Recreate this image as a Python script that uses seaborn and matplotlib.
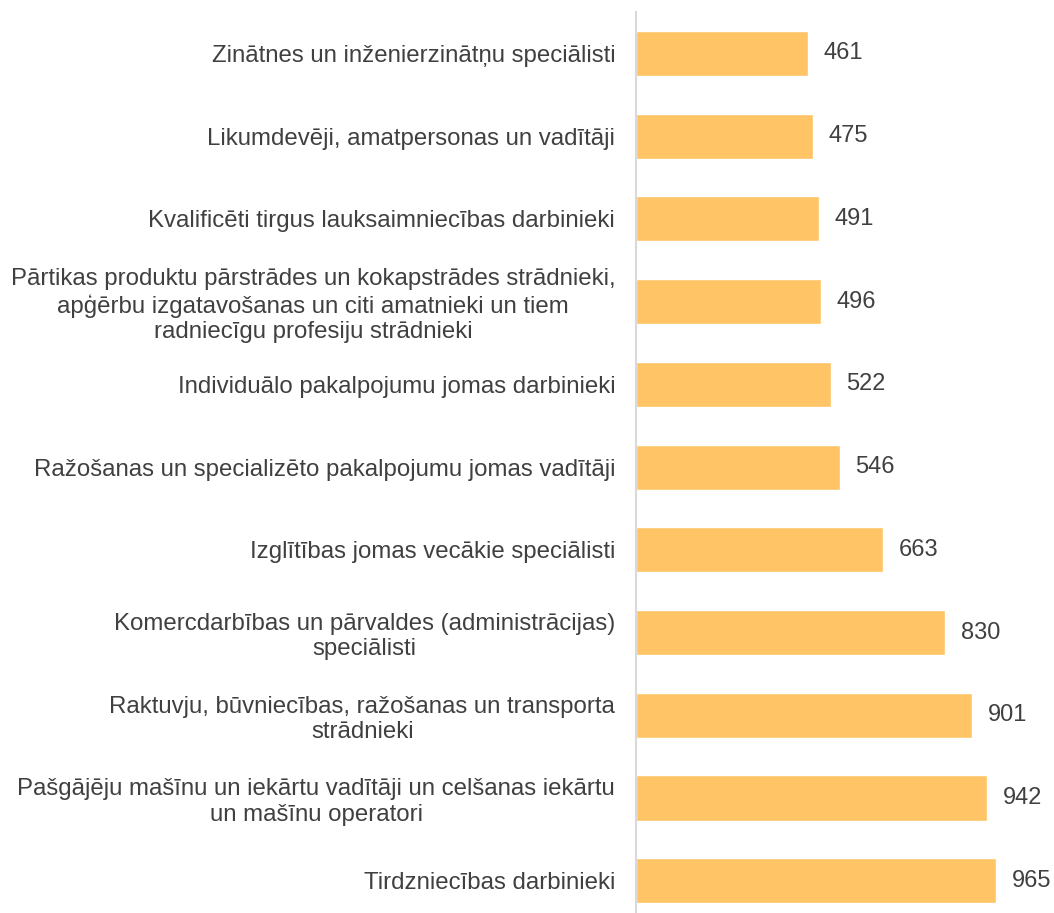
import pandas as pd
import matplotlib.pyplot as plt
import seaborn as sns

occupations = [
    "Zinātnes un inženierzinātņu speciālisti",
    "Likumdevēji, amatpersonas un vadītāji",
    "Kvalificēti tirgus lauksaimniecības darbinieki",
    "Pārtikas produktu pārstrādes un kokapstrādes strādnieki,\napģērbu izgatavošanas un citi amatnieki un tiem\nradniecīgu profesiju strādnieki",
    "Individuālo pakalpojumu jomas darbinieki",
    "Ražošanas un specializēto pakalpojumu jomas vadītāji",
    "Izglītības jomas vecākie speciālisti",
    "Komercdarbības un pārvaldes (administrācijas)\nspeciālisti",
    "Raktuvju, būvniecības, ražošanas un transporta\nstrādnieki",
    "Pašgājēju mašīnu un iekārtu vadītāji un celšanas iekārtu\nun mašīnu operatori",
    "Tirdzniecības darbinieki",
]
values = [461, 475, 491, 496, 522, 546, 663, 830, 901, 942, 965]

df = pd.DataFrame({"occupation": occupations, "value": values})

sns.set_style("white")
plt.rcParams["font.family"] = ["Liberation Sans", "DejaVu Sans"]

fig = plt.figure(figsize=(10.54, 9.13), dpi=100)
ax = fig.add_axes([636 / 1054, 0.0, 418 / 1054, 901 / 913])

sns.barplot(data=df, x="value", y="occupation", orient="h", color="#FFC466",
            saturation=1, width=0.545, ax=ax)

ax.set_xlim(0, 1121)
ax.set_ylim(10.39, -0.5)
ax.set_xlabel("")
ax.set_ylabel("")
ax.set_xticks([])

for spine in ["top", "right", "bottom"]:
    ax.spines[spine].set_visible(False)
ax.spines["left"].set_color("#D9D9D9")
ax.spines["left"].set_linewidth(1.5)

ax.tick_params(axis="y", length=0, pad=15, labelsize=17.3, labelcolor="#404040")
for lbl in ax.get_yticklabels():
    lbl.set_multialignment("center")
    lbl.set_linespacing(1.2)

for i, v in enumerate(values):
    ax.text(v + 42, i, str(v), va="center", ha="left", fontsize=17, color="#404040")

fig.savefig("out.png", dpi=100)
